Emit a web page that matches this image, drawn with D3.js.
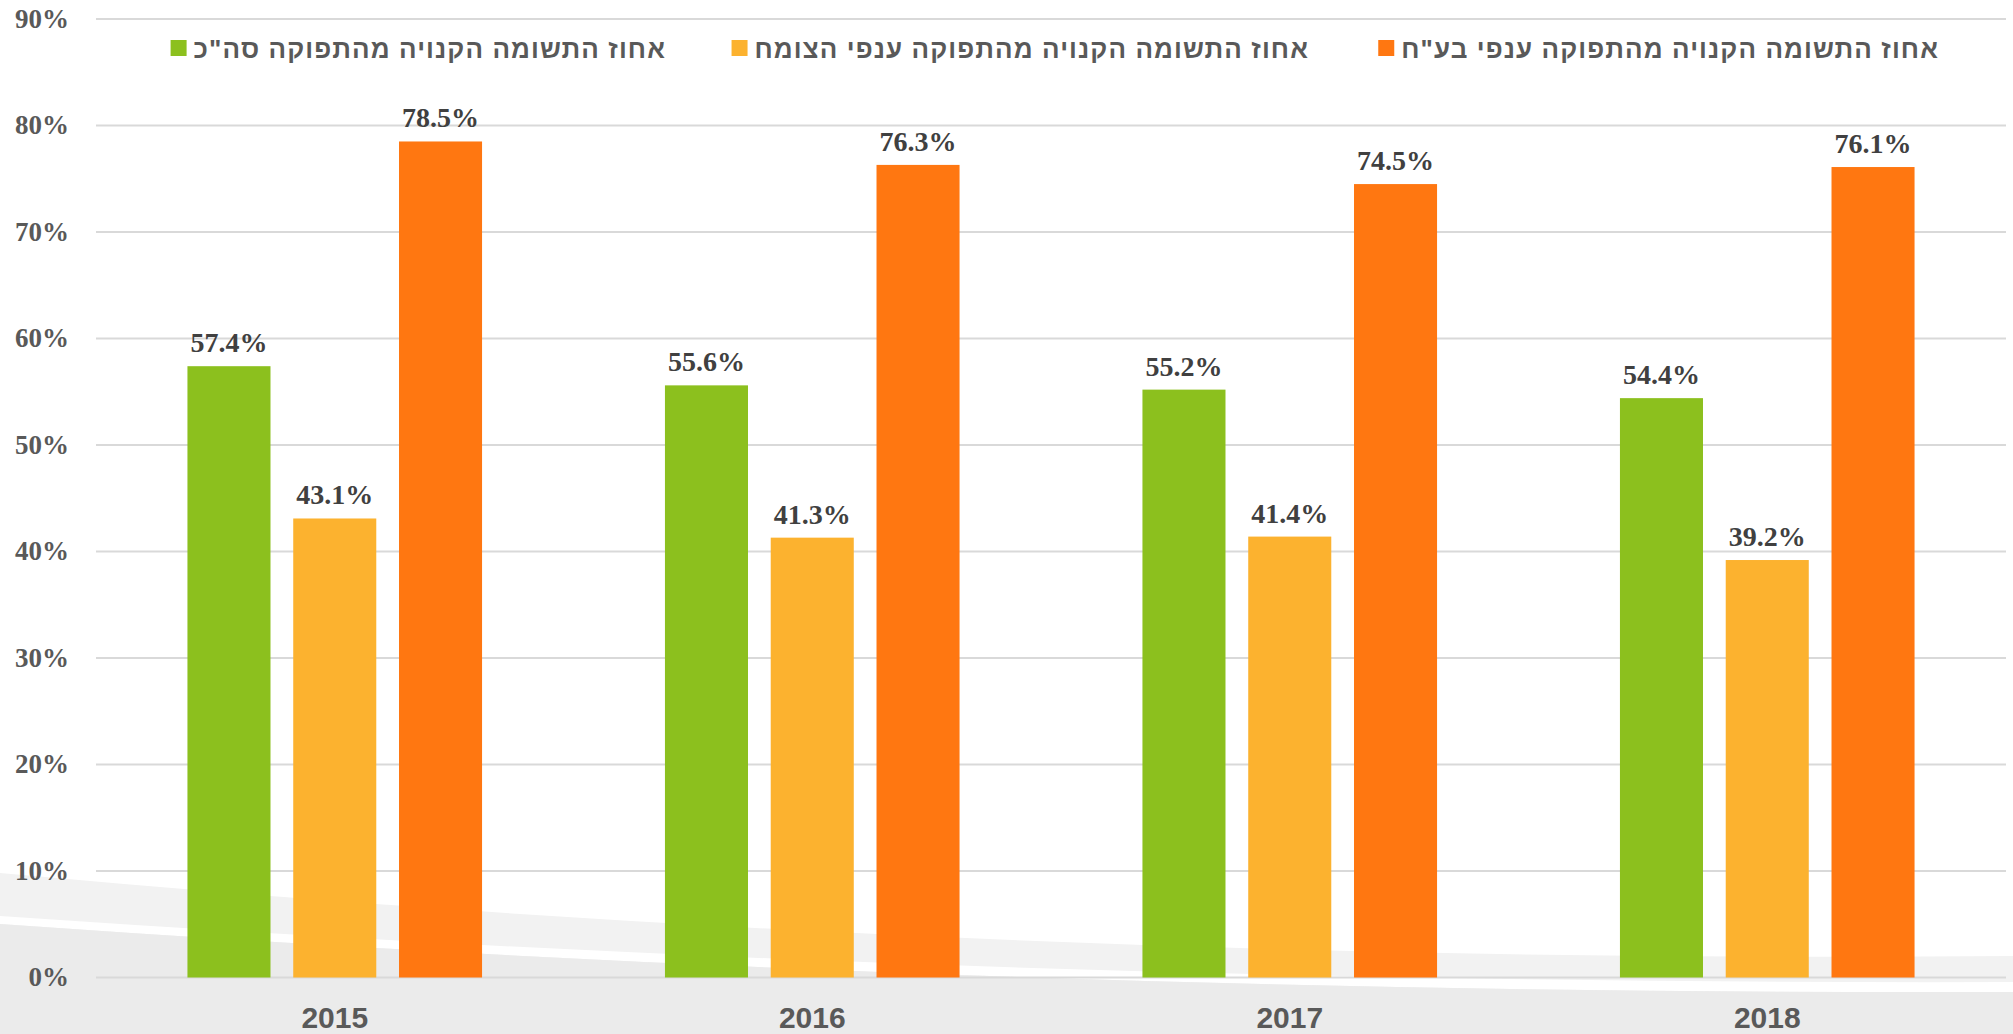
<!DOCTYPE html>
<html>
<head>
<meta charset="utf-8">
<script src="https://cdn.jsdelivr.net/npm/d3@7"></script>
<style>
  html, body { margin: 0; padding: 0; background: #fff; }
  svg { display: block; }
</style>
</head>
<body>
<svg id="chart" width="2013" height="1034"></svg>
<script>
const years = ['2015', '2016', '2017', '2018'];
const seriesNames = [
  'אחוז התשומה הקנויה מהתפוקה סה"כ',
  'אחוז התשומה הקנויה מהתפוקה ענפי הצומח',
  'אחוז התשומה הקנויה מהתפוקה ענפי בע"ח'
];
const totalValues = [57.4, 55.6, 55.2, 54.4];
const plantValues = [43.1, 41.3, 41.4, 39.2];
const animalValues = [78.5, 76.3, 74.5, 76.1];
const yTicks = [0, 10, 20, 30, 40, 50, 60, 70, 80, 90];

const colors = ['#8CC01E', '#FCB22F', '#FF7711'];
const series = [totalValues, plantValues, animalValues];

const svg = d3.select('#chart');
const W = 2013, H = 1034;
const margin = {left: 96, right: 7, top: 19, bottom: 56};

// background swoosh
const bg = svg.append('g');
bg.append('path')
  .attr('d', `M0,873 Q1000,965 ${W},956 L${W},${H} L0,${H} Z`)
  .style('fill', '#F2F2F2');
bg.append('path')
  .attr('d', `M0,916 Q1000,985 ${W},982 L${W},992 Q1000,995 0,924 Z`)
  .style('fill', '#FFFFFF');
bg.append('path')
  .attr('d', `M0,924 Q1000,995 ${W},992 L${W},${H} L0,${H} Z`)
  .style('fill', '#EBEBEB');

const y = d3.scaleLinear()
  .domain([0, 90])
  .range([977.5, margin.top]);

const x0 = d3.scaleBand()
  .domain(years)
  .range([margin.left, W - margin.right])
  .padding(0);

const x1 = d3.scaleBand()
  .domain(d3.range(series.length))
  .range([-147.3, 147.3])
  .paddingInner(0.215);

// gridlines
svg.append('g')
  .selectAll('line')
  .data(yTicks)
  .enter()
  .append('line')
  .attr('x1', margin.left)
  .attr('x2', W - margin.right)
  .attr('y1', d => y(d))
  .attr('y2', d => y(d))
  .style('stroke', '#D9D9D9')
  .style('stroke-width', 2);

// y labels
svg.append('g')
  .selectAll('text')
  .data(yTicks)
  .enter()
  .append('text')
  .attr('x', 69)
  .attr('y', d => y(d))
  .attr('dy', '0.32em')
  .attr('text-anchor', 'end')
  .text(d => d + '%')
  .style('font-family', '"Liberation Serif", "DejaVu Serif", serif')
  .style('font-weight', 'bold')
  .style('font-size', '27px')
  .style('fill', '#595959');

// bars
const groups = svg.append('g')
  .selectAll('g')
  .data(years)
  .enter()
  .append('g')
  .attr('transform', d => `translate(${x0(d) + x0.bandwidth() / 2},0)`);

groups.selectAll('rect')
  .data((d, i) => series.map((s, k) => ({k: k, v: s[i]})))
  .enter()
  .append('rect')
  .attr('x', d => x1(d.k))
  .attr('width', x1.bandwidth())
  .attr('y', d => y(d.v))
  .attr('height', d => y(0) - y(d.v))
  .style('fill', d => colors[d.k]);

groups.selectAll('text')
  .data((d, i) => series.map((s, k) => ({k: k, v: s[i]})))
  .enter()
  .append('text')
  .attr('x', d => x1(d.k) + x1.bandwidth() / 2)
  .attr('y', d => y(d.v) - 14)
  .attr('text-anchor', 'middle')
  .text(d => d.v.toFixed(1) + '%')
  .style('font-family', '"Liberation Serif", "DejaVu Serif", serif')
  .style('font-weight', 'bold')
  .style('font-size', '28px')
  .style('fill', '#404040');

// x labels
svg.append('g')
  .selectAll('text')
  .data(years)
  .enter()
  .append('text')
  .attr('x', d => x0(d) + x0.bandwidth() / 2)
  .attr('y', 1028)
  .attr('text-anchor', 'middle')
  .text(d => d)
  .style('font-family', '"Liberation Sans", Arial, sans-serif')
  .style('font-weight', 'bold')
  .style('font-size', '30px')
  .style('fill', '#595959');

// legend
const legendRight = [666, 1309, 1939];
const legend = svg.append('g')
  .selectAll('g')
  .data(seriesNames)
  .enter()
  .append('g');

legend.append('text')
  .attr('x', (d, i) => legendRight[i])
  .attr('y', 49)
  .attr('dy', '0.35em')
  .attr('direction', 'rtl')
  .attr('text-anchor', 'start')
  .text(d => d)
  .style('font-family', '"Liberation Sans", Arial, sans-serif')
  .style('font-weight', 'bold')
  .style('font-size', '26px')
  .style('letter-spacing', '1.1px')
  .style('fill', '#595959');

legend.each(function(d, i) {
  const g = d3.select(this);
  const len = g.select('text').node().getComputedTextLength();
  g.append('rect')
    .attr('x', legendRight[i] - len - 7 - 16)
    .attr('y', 40)
    .attr('width', 16)
    .attr('height', 16)
    .style('fill', colors[i]);
});
</script>
</body>
</html>
